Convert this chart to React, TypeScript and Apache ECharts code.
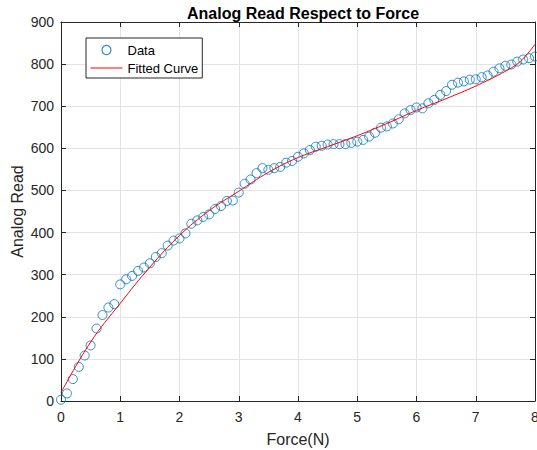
import React, { useEffect, useRef } from "react";
import * as echarts from "echarts";

const forceN: number[] = [
  0, 0.1, 0.2, 0.3, 0.4, 0.5, 0.6, 0.7, 0.8, 0.9,
  1.0, 1.1, 1.2, 1.3, 1.4, 1.5, 1.6, 1.7, 1.8, 1.9,
  2.0, 2.1, 2.2, 2.3, 2.4, 2.5, 2.6, 2.7, 2.8, 2.9,
  3.0, 3.1, 3.2, 3.3, 3.4, 3.5, 3.6, 3.7, 3.8, 3.9,
  4.0, 4.1, 4.2, 4.3, 4.4, 4.5, 4.6, 4.7, 4.8, 4.9,
  5.0, 5.1, 5.2, 5.3, 5.4, 5.5, 5.6, 5.7, 5.8, 5.9,
  6.0, 6.1, 6.2, 6.3, 6.4, 6.5, 6.6, 6.7, 6.8, 6.9,
  7.0, 7.1, 7.2, 7.3, 7.4, 7.5, 7.6, 7.7, 7.8, 7.9,
  8.0,
];

const analogRead: number[] = [
  3, 18, 52, 81, 108, 132, 172, 204, 222, 230,
  277, 289, 297, 309, 317, 327, 342, 351, 369, 381,
  386, 398, 421, 429, 437, 443, 456, 463, 475, 476,
  495, 516, 526, 541, 553, 549, 553, 556, 566, 570,
  580, 588, 596, 604, 606, 609, 610, 610, 610, 613,
  616, 620, 628, 637, 649, 652, 659, 669, 683, 691,
  697, 695, 707, 715, 727, 736, 751, 756, 759, 763,
  764, 769, 773, 782, 790, 796, 799, 806, 811, 814,
  818,
];

const fitForce: number[] = [0, 0.5, 1, 1.5, 2, 2.5, 3, 3.5, 4, 4.5, 5, 5.5, 6, 6.5, 7, 7.5, 7.75, 8];
const fitRead: number[] = [20, 140, 232, 318, 393, 452, 498, 543, 578, 604, 630, 659, 690, 718, 748, 783, 806, 847];

const xTicks = { min: 0, max: 8, interval: 1 };
const yTicks = { min: 0, max: 900, interval: 100 };

const TEXT = "#262626";
const BLUE = "#0072BD";
const FONT = "'Liberation Sans', Arial, Helvetica, sans-serif";

export default function App() {
  const ref = useRef<HTMLDivElement>(null);

  useEffect(() => {
    if (!ref.current) return;
    const chart = echarts.init(ref.current, undefined, { renderer: "svg" });
    const axisLine = { show: true, onZero: false, lineStyle: { color: TEXT, width: 1 } };
    const tick = { show: true, inside: true, length: 5, lineStyle: { color: TEXT, width: 1 } };
    const split = { show: true, lineStyle: { color: "#e3e3e3", width: 1 } };
    chart.setOption({
      animation: false,
      backgroundColor: "#ffffff",
      textStyle: { fontFamily: FONT },
      title: {
        text: "Analog Read Respect to Force",
        left: 298,
        top: 0,
        textAlign: "center",
        textStyle: { fontFamily: FONT, fontSize: 16, fontWeight: "bold", color: "#000000" },
      },
      grid: { left: 61, right: 2, top: 22, bottom: 49, containLabel: false, outerBoundsMode: "none" },
      legend: {
        orient: "vertical",
        left: 86,
        top: 38,
        padding: [5, 4, 3, 4],
        itemWidth: 32,
        itemHeight: 9,
        itemGap: 4,
        borderColor: TEXT,
        borderWidth: 1,
        backgroundColor: "#ffffff",
        textStyle: { fontFamily: FONT, fontSize: 13, color: "#000000", lineHeight: 14 },
        data: [
          {
            name: "Data",
            icon: "circle",
            itemStyle: { color: "rgba(255,255,255,0)", borderColor: BLUE, borderWidth: 1.2 },
          },
          {
            name: "Fitted Curve",
            itemStyle: { opacity: 0 },
            lineStyle: { color: "#ff0000", width: 1 },
          },
        ],
      },
      xAxis: [
        {
          type: "value",
          position: "bottom",
          ...xTicks,
          axisLine,
          axisTick: tick,
          splitLine: split,
          axisLabel: { color: TEXT, fontFamily: FONT, fontSize: 14, margin: 9 },
          name: "Force(N)",
          nameLocation: "middle",
          nameGap: 30,
          nameMoveOverlap: false,
          nameTextStyle: { color: TEXT, fontFamily: FONT, fontSize: 16 },
        },
        {
          type: "value",
          position: "top",
          ...xTicks,
          axisLine,
          axisTick: tick,
          splitLine: { show: false },
          axisLabel: { show: false },
        },
      ],
      yAxis: [
        {
          type: "value",
          position: "left",
          ...yTicks,
          axisLine,
          axisTick: tick,
          splitLine: split,
          axisLabel: { color: TEXT, fontFamily: FONT, fontSize: 14, margin: 7 },
          name: "Analog Read",
          nameLocation: "middle",
          nameGap: 36,
          nameMoveOverlap: false,
          nameTextStyle: { color: TEXT, fontFamily: FONT, fontSize: 16 },
        },
        {
          type: "value",
          position: "right",
          ...yTicks,
          axisLine,
          axisTick: tick,
          splitLine: { show: false },
          axisLabel: { show: false },
        },
      ],
      series: [
        {
          name: "Data",
          type: "scatter",
          xAxisIndex: 0,
          yAxisIndex: 0,
          symbol: "circle",
          symbolSize: 9,
          itemStyle: { color: "rgba(255,255,255,0)", borderColor: BLUE, borderWidth: 1 },
          emphasis: { disabled: true },
          data: forceN.map((x, i) => [x, analogRead[i]]),
          z: 3,
        },
        {
          name: "Fitted Curve",
          type: "line",
          xAxisIndex: 0,
          yAxisIndex: 0,
          symbol: "none",
          smooth: 0.4,
          lineStyle: { color: "#ff0000", width: 1 },
          itemStyle: { color: "#ff0000" },
          data: fitForce.map((x, i) => [x, fitRead[i]]),
          z: 4,
        },
      ],
    });
    return () => chart.dispose();
  }, []);

  return (
    <div
      ref={ref}
      style={{ position: "absolute", left: 0, top: 0, width: 537, height: 450, background: "#fff" }}
    />
  );
}
